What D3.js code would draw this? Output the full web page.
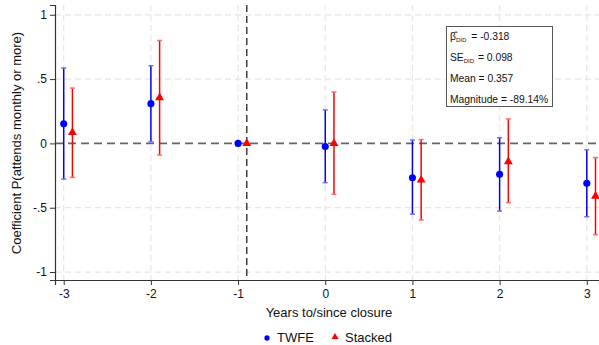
<!DOCTYPE html>
<html>
<head>
<meta charset="utf-8">
<script src="https://cdn.jsdelivr.net/npm/d3@7"></script>
<style>
  body { margin: 0; background: #fff; }
  svg { font-family: "Liberation Sans", Arial, Helvetica, sans-serif; display: block; }
</style>
</head>
<body>
<svg width="599" height="345"></svg>
<script>
// event time periods
const years = [-3, -2, -1, 0, 1, 2, 3];
// TWFE estimates and 95% CI
const twfeCoef = [0.153, 0.309, 0, -0.025, -0.267, -0.24, -0.31];
const twfeLo   = [-0.277, 0.013, null, -0.305, -0.55, -0.526, -0.57];
const twfeHi   = [0.586, 0.604, null, 0.26, 0.026, 0.044, -0.05];
// Stacked estimates and 95% CI
const stackCoef = [0.086, 0.355, 0, 0.0, -0.285, -0.142, -0.41];
const stackLo   = [-0.264, -0.09, null, -0.396, -0.596, -0.46, -0.71];
const stackHi   = [0.43, 0.80, null, 0.40, 0.03, 0.19, -0.11];
const yTicks = [-1, -0.5, 0, 0.5, 1];
const yTickLabels = ["-1", "-.5", "0", ".5", "1"];
const boxLines = ["= -0.318", "= 0.098", "Mean = 0.357", "Magnitude = -89.14%"];

let svg = d3.select("svg");
let x = d3.scaleLinear().domain([-3.1, 3.14]).range([55, 599]);
let y = d3.scaleLinear().domain([-1.062, 1.076]).range([280, 5]);

// grid
svg.selectAll("line.hgrid")
  .data(yTicks.filter(d => d != 0))
  .enter().append("line")
  .attr("x1", 55).attr("x2", 599)
  .attr("y1", d => y(d)).attr("y2", d => y(d))
  .attr("stroke", "#e6e6e6").attr("stroke-width", 1.2)
  .attr("stroke-dasharray", "6,4");
svg.selectAll("line.vgrid")
  .data(years)
  .enter().append("line")
  .attr("x1", d => x(d)).attr("x2", d => x(d))
  .attr("y1", 5).attr("y2", 280)
  .attr("stroke", "#e6e6e6").attr("stroke-width", 1.2)
  .attr("stroke-dasharray", "6,4");

// zero line
svg.append("line")
  .attr("x1", 55).attr("x2", 599)
  .attr("y1", y(0)).attr("y2", y(0))
  .attr("stroke", "#666").attr("stroke-width", 1.8)
  .attr("stroke-dasharray", "8,5");

// closure line
svg.append("line")
  .attr("x1", x(-0.9)).attr("x2", x(-0.9))
  .attr("y1", 5).attr("y2", 280)
  .attr("stroke", "#222").attr("stroke-width", 1.3)
  .attr("stroke-dasharray", "7,4");

// axes
let yAxis = svg.append("g").attr("transform", "translate(55,0)")
  .call(d3.axisLeft(y).tickValues(yTicks).tickFormat((d, i) => yTickLabels[i]).tickSize(5).tickPadding(3));
let xAxis = svg.append("g").attr("transform", "translate(0,280)")
  .call(d3.axisBottom(x).tickValues(years).tickFormat(d3.format("d")).tickSize(5).tickPadding(4));
[yAxis, xAxis].forEach(function(g) {
  g.select(".domain").attr("stroke", "#333").attr("stroke-width", 1.2);
  g.selectAll(".tick line").attr("stroke", "#333");
  g.selectAll("text").style("font-size", "12px").attr("fill", "#111");
});
xAxis.selectAll("text").text(d => d < 0 ? "-" + Math.abs(d) : d);

// error bars
function drawSeries(coef, lo, hi, offset, color, capColor, shape) {
  let idx = years.map((d, i) => i).filter(i => lo[i] != null);
  let g = svg.append("g");
  g.selectAll("line.ci").data(idx).enter().append("line")
    .attr("x1", i => x(years[i] + offset)).attr("x2", i => x(years[i] + offset))
    .attr("y1", i => y(lo[i])).attr("y2", i => y(hi[i]))
    .attr("stroke", color).attr("stroke-width", 1.5);
  [lo, hi].forEach(function(arr) {
    g.selectAll(null).data(idx).enter().append("line")
      .attr("x1", i => x(years[i] + offset) - 2.5).attr("x2", i => x(years[i] + offset) + 2.5)
      .attr("y1", i => y(arr[i])).attr("y2", i => y(arr[i]))
      .attr("stroke", capColor).attr("stroke-width", 1.5);
  });
  g.selectAll("path.pt").data(years).enter().append("path")
    .attr("transform", (d, i) => "translate(" + x(d + offset) + "," + y(coef[i]) + ")")
    .attr("d", d3.symbol().type(shape).size(shape == d3.symbolCircle ? 40 : 34))
    .attr("fill", color);
}
drawSeries(twfeCoef, twfeLo, twfeHi, 0, "#0000ff", "#6b6bff", d3.symbolCircle);
drawSeries(stackCoef, stackLo, stackHi, 0.1, "#ff0000", "#ff6b6b", d3.symbolTriangle);

// annotation box
svg.append("rect")
  .attr("x", 446.5).attr("y", 26.5).attr("width", 106).attr("height", 80)
  .attr("fill", "#fff").attr("stroke", "#555").attr("stroke-width", 1);
let bx = 450;
let lineY = [40, 61, 82, 103];
let fs = "10.3px";
// beta hat
let t0 = svg.append("text").attr("x", bx).attr("y", lineY[0]).style("font-size", fs).attr("fill", "#111");
t0.append("tspan").text("\u03B2\u0302");
t0.append("tspan").attr("dy", 2).style("font-size", "6px").text("DID");
t0.append("tspan").attr("dy", -2).attr("dx", 5).text(boxLines[0]);
let t1 = svg.append("text").attr("x", bx).attr("y", lineY[1]).style("font-size", fs).attr("fill", "#111");
t1.append("tspan").text("SE");
t1.append("tspan").attr("dy", 2).style("font-size", "6px").text("DID");
t1.append("tspan").attr("dy", -2).attr("dx", 1).text(" " + boxLines[1]);
svg.append("text").attr("x", bx).attr("y", lineY[2]).style("font-size", fs).attr("fill", "#111").text(boxLines[2]);
svg.append("text").attr("x", bx).attr("y", lineY[3]).style("font-size", fs).attr("fill", "#111").text(boxLines[3]);

// axis titles
svg.append("text")
  .attr("transform", "translate(21,143) rotate(-90)")
  .attr("text-anchor", "middle").style("font-size", "13px").attr("fill", "#111")
  .text("Coefficient P(attends monthly or more)");
svg.append("text")
  .attr("x", 329).attr("y", 317)
  .attr("text-anchor", "middle").style("font-size", "13px").attr("fill", "#111")
  .text("Years to/since closure");

// legend
svg.append("path").attr("transform", "translate(267,338)")
  .attr("d", d3.symbol().type(d3.symbolCircle).size(22)).attr("fill", "#0000ff");
svg.append("text").attr("x", 277).attr("y", 342).style("font-size", "13px").attr("fill", "#111").text("TWFE");
svg.append("path").attr("transform", "translate(335,337)")
  .attr("d", d3.symbol().type(d3.symbolTriangle).size(22)).attr("fill", "#ff0000");
svg.append("text").attr("x", 345).attr("y", 342).style("font-size", "13px").attr("fill", "#111").text("Stacked");
</script>
</body>
</html>
